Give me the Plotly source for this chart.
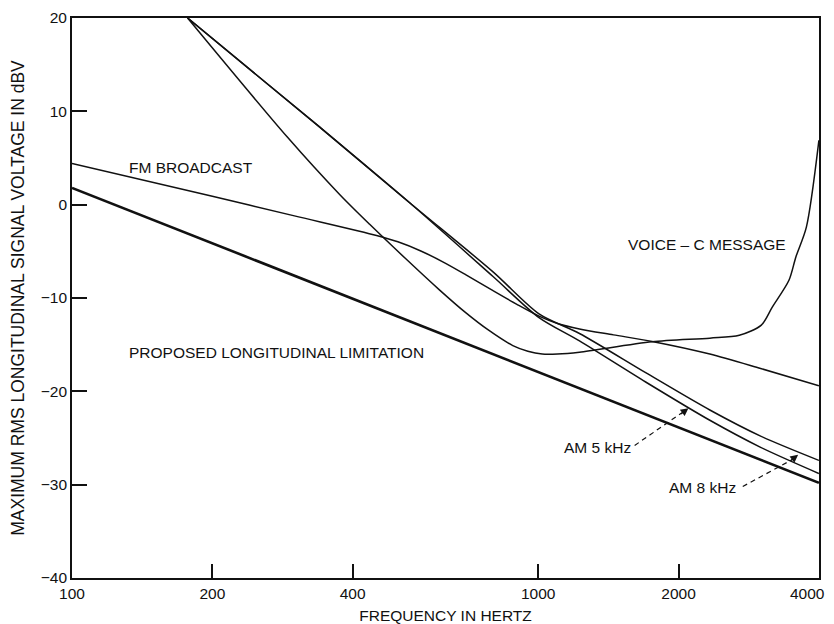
import numpy as np
import plotly.graph_objects as go

# ---- data ----
limit_freq = [100, 4000]
limit_db = [1.8, -29.8]

fm_freq = [100, 200, 300, 450, 500, 560, 630, 700, 800, 900, 1004, 1100, 1226, 1450, 1755, 2334, 3000, 4000]
fm_db = [4.4, 0.9, -1.2, -3.3, -3.98, -4.96, -6.23, -7.52, -9.22, -10.68, -11.94, -12.73, -13.32, -13.95, -14.65, -16.0, -17.55, -19.4]

voice_freq = [177, 289, 375, 435, 520, 613, 700, 780, 882, 950, 1020, 1100, 1226, 1755, 2334, 2700, 3010, 3175, 3450, 3570, 3760, 4000]
voice_db = [20, 7.3, 1.1, -2.1, -5.8, -9.1, -11.6, -13.4, -15.1, -15.7, -16.0, -16.0, -15.8, -14.7, -14.3, -14.0, -12.9, -11.0, -8.1, -5.6, -2.4, 6.9]

am8_freq = [177, 340, 530, 800, 1004, 1226, 1700, 2334, 3000, 4000]
am8_db = [20, 8.3, 0.2, -7.2, -11.7, -13.8, -18.0, -22.0, -24.8, -27.4]

am5_freq = [177, 340, 530, 800, 1004, 1226, 1700, 2334, 3000, 4000]
am5_db = [20, 8.3, 0.2, -7.7, -12.1, -14.6, -19.0, -23.1, -26.0, -28.8]

x_ticks = [100, 200, 400, 1000, 2000, 4000]
x_ticklabels = ["100", "200", "400", "1000", "2000", "4000"]
y_ticks = [-40, -30, -20, -10, 0, 10, 20]

# label anchors (freq, dB)
fm_label = (131, 4.0)
voice_label = (1546, -4.3)
limit_label = (131, -15.8)
am5_label = (1600, -26.0)
am5_leader = ([1610, 2060], [-25.8, -22.1])
am5_tip = (2100, -21.8)
am8_label = (2680, -30.3)
am8_leader = ([2746, 3540], [-30.2, -27.2])
am8_tip = (3610, -26.8)

FONT = "Liberation Sans, Arial, Helvetica, sans-serif"
INK = "#111111"

fig = go.Figure()

def curve(f, v, w=1.5, shape="spline"):
    fig.add_trace(go.Scatter(x=f, y=v, mode="lines",
                             line=dict(color=INK, width=w, shape=shape, smoothing=0.8),
                             showlegend=False, hoverinfo="skip"))

curve(limit_freq, limit_db, w=2.6, shape="linear")
curve(fm_freq, fm_db)
curve(voice_freq, voice_db)
curve(am8_freq, am8_db)
curve(am5_freq, am5_db)

# dashed leaders
for lx, ly in (am5_leader, am8_leader):
    fig.add_trace(go.Scatter(x=lx, y=ly, mode="lines",
                             line=dict(color=INK, width=1.2, dash="5px,4px"),
                             showlegend=False, hoverinfo="skip"))

def label(pos, text, anchor="left"):
    fig.add_annotation(x=np.log10(pos[0]), y=pos[1], text=text, showarrow=False,
                       xanchor=anchor, yanchor="middle",
                       font=dict(family=FONT, size=15.5, color=INK))

label(fm_label, "FM BROADCAST")
label(voice_label, "VOICE \u2013 C MESSAGE")
label(limit_label, "PROPOSED LONGITUDINAL LIMITATION")
label(am5_label, "AM 5 kHz", "right")
label(am8_label, "AM 8 kHz", "right")

for tip in (am5_tip, am8_tip):
    fig.add_annotation(x=np.log10(tip[0]), y=tip[1], text="", showarrow=True,
                       arrowhead=2, arrowsize=1.3, arrowwidth=1.2, arrowcolor=INK,
                       ax=-9, ay=7)

# last x tick label sits at the right edge: draw it right-aligned so it stays inside
tick_text = x_ticklabels[:-1] + [""]
fig.add_annotation(x=np.log10(x_ticks[-1]), y=0, yref="paper", text=x_ticklabels[-1],
                   showarrow=False, xanchor="right", yanchor="top", xshift=8, yshift=-5,
                   font=dict(family=FONT, size=15.5, color=INK))

fig.update_xaxes(type="log", range=[np.log10(100), np.log10(4002)],
                 tickvals=x_ticks, ticktext=tick_text,
                 ticks="inside", ticklen=14, tickwidth=1.5, tickcolor=INK,
                 showline=True, linecolor=INK, linewidth=1.8, mirror=True,
                 showgrid=False, zeroline=False,
                 tickfont=dict(family=FONT, size=15.5, color=INK),
                 title=dict(text="FREQUENCY IN HERTZ", standoff=10,
                            font=dict(family=FONT, size=15.5, color=INK)))
fig.update_yaxes(range=[-40, 20], tickvals=y_ticks,
                 ticks="inside", ticklen=15, tickwidth=1.5, tickcolor=INK,
                 showline=True, linecolor=INK, linewidth=1.8, mirror=True,
                 showgrid=False, zeroline=False,
                 tickfont=dict(family=FONT, size=15.5, color=INK),
                 title=dict(text="MAXIMUM RMS LONGITUDINAL SIGNAL VOLTAGE IN dBV", standoff=13,
                            font=dict(family=FONT, size=17.5, color=INK)))

fig.update_layout(width=826, height=616, margin=dict(l=64, r=15, t=10, b=46, autoexpand=False),
                  paper_bgcolor="white", plot_bgcolor="white", showlegend=False)

fig.write_html("out.html")
